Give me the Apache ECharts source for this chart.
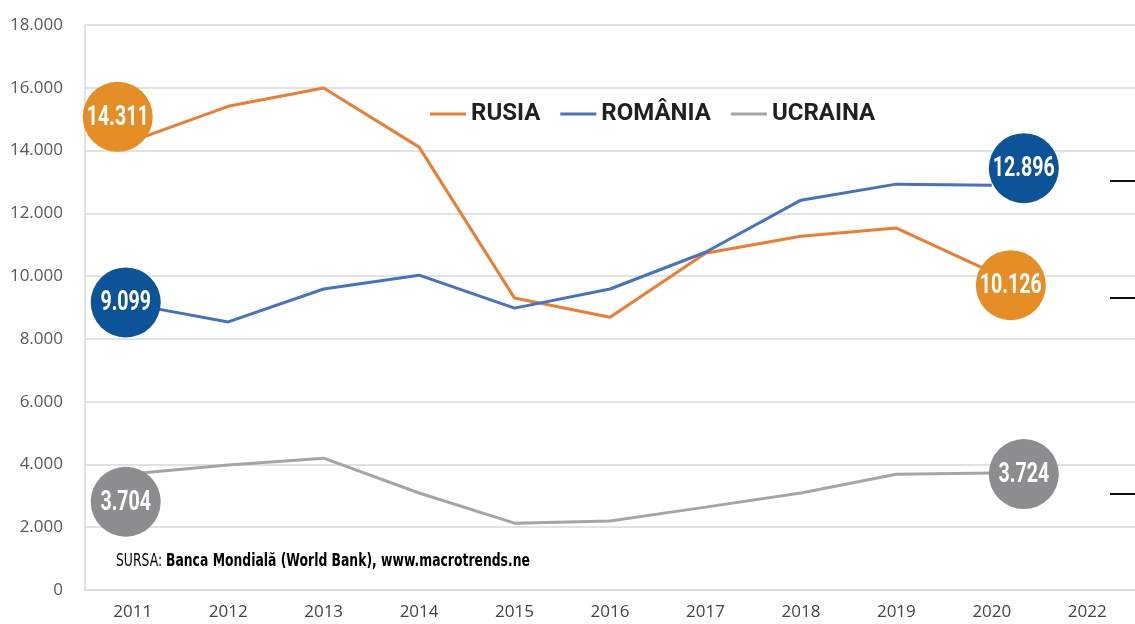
<!DOCTYPE html>
<html>
<head>
<meta charset="utf-8">
<script src="https://cdn.jsdelivr.net/npm/echarts@6/dist/echarts.min.js"></script>
<style>
  html, body { margin: 0; padding: 0; background: #fff; }
  #chart { width: 1135px; height: 624px; }
</style>
</head>
<body>
<div id="chart"></div>
<script>
// ani pe axa X (2021 lipseste in original)
const years = ['2011', '2012', '2013', '2014', '2015', '2016', '2017', '2018', '2019', '2020', '2022'];
// valori
const rusia   = [14311, 15410, 15990, 14110, 9300, 8690, 10730, 11270, 11530, 10126, null];
const romania = [9099, 8540, 9590, 10030, 8980, 9590, 10760, 12420, 12930, 12896, null];
const ucraina = [3704, 3980, 4200, 3090, 2130, 2200, 2640, 3090, 3690, 3724, null];
const yTicks = [0, 2000, 4000, 6000, 8000, 10000, 12000, 14000, 16000, 18000];

// bulele cu valori: primul si ultimul an cu date
const bubbleYears = [0, 9];
const bubbleColors = ['#e58e26', '#0c5497', '#8d8d8f'];
const bubbleOffsets = [
  [[-15, -24], [19, 13]],
  [[-7, -2], [32, -17]],
  [[-7, 28], [32, 1]]
];

const allSeries = [rusia, romania, ucraina];
const bubbleData = [];
allSeries.forEach((s, si) => {
  bubbleYears.forEach((yi, k) => {
    bubbleData.push([yi, s[yi], si, k]);
  });
});

const narrow = 'DejaVu Sans Condensed, sans-serif';

function fmt(v) {
  if (v === 0) return '0';
  return (v / 1000).toFixed(3);
}

const chart = echarts.init(document.getElementById('chart'));

const option = {
  animation: false,
  grid: { left: 85, right: 0, top: 25, bottom: 34 },
  legend: {
    left: 425,
    top: 97,
    icon: 'rect',
    itemWidth: 36,
    itemHeight: 3,
    itemGap: 20,
    textStyle: { fontFamily: 'Roboto', fontWeight: 'bold', fontSize: 24, color: '#231f20' },
    data: ['RUSIA', 'ROMÂNIA', 'UCRAINA']
  },
  xAxis: {
    type: 'category',
    data: years,
    boundaryGap: true,
    axisLine: { lineStyle: { color: '#d9d9d9', width: 1.5 } },
    axisTick: { show: false },
    axisLabel: { color: '#444', fontSize: 17, fontFamily: 'Open Sans', margin: 14 }
  },
  yAxis: {
    type: 'value',
    min: yTicks[0],
    max: yTicks[yTicks.length - 1],
    interval: 2000,
    axisLine: { show: true, lineStyle: { color: '#d9d9d9', width: 1.5 } },
    axisTick: { show: false },
    splitLine: { lineStyle: { color: '#d9d9d9', width: 1.5 } },
    axisLabel: {
      color: '#595959', fontSize: 17, fontFamily: 'Open Sans', margin: 22,
      formatter: fmt
    }
  },
  series: [
    {
      name: 'RUSIA',
      type: 'line',
      data: rusia,
      symbol: 'none',
      color: '#ED7D31',
      lineStyle: { width: 3 }
    },
    {
      name: 'ROMÂNIA',
      type: 'line',
      data: romania,
      symbol: 'none',
      color: '#4472C4',
      lineStyle: { width: 3 }
    },
    {
      name: 'UCRAINA',
      type: 'line',
      data: ucraina,
      symbol: 'none',
      color: '#A5A5A5',
      lineStyle: { width: 3 }
    },
    {
      name: 'bule',
      type: 'custom',
      z: 5,
      data: bubbleData,
      encode: { x: 0, y: 1 },
      renderItem: (params, api) => {
        const p = api.coord([api.value(0), api.value(1)]);
        const si = api.value(2);
        const k = api.value(3);
        const off = bubbleOffsets[si][k];
        return {
          type: 'group',
          x: p[0] + off[0],
          y: p[1] + off[1],
          children: [
            { type: 'circle', shape: { cx: 0, cy: 0, r: 35 }, style: { fill: bubbleColors[si] } },
            {
              type: 'text',
              scaleX: 0.7,
              style: {
                x: 0, y: 1,
                text: fmt(api.value(1)),
                fill: '#fff',
                font: 'bold 28px Roboto',
                align: 'center',
                verticalAlign: 'middle'
              }
            }
          ]
        };
      }
    }
  ],
  graphic: [
    {
      type: 'text',
      x: 116,
      y: 562,
      scaleX: 0.81,
      style: {
        text: '{a|SURSA: }{b|Banca Mondială (World Bank), www.macrotrends.ne}',
        verticalAlign: 'middle',
        rich: {
          a: { fontFamily: narrow, fontSize: 17, color: '#231f20' },
          b: { fontFamily: narrow, fontSize: 17, fontWeight: 'bold', color: '#231f20' }
        }
      }
    },
    { type: 'line', shape: { x1: 1110, y1: 181, x2: 1135, y2: 181 }, style: { stroke: '#111', lineWidth: 2 } },
    { type: 'line', shape: { x1: 1110, y1: 298, x2: 1135, y2: 298 }, style: { stroke: '#111', lineWidth: 2 } },
    { type: 'line', shape: { x1: 1110, y1: 494, x2: 1135, y2: 494 }, style: { stroke: '#111', lineWidth: 2 } }
  ]
};

chart.setOption(option);
</script>
</body>
</html>
